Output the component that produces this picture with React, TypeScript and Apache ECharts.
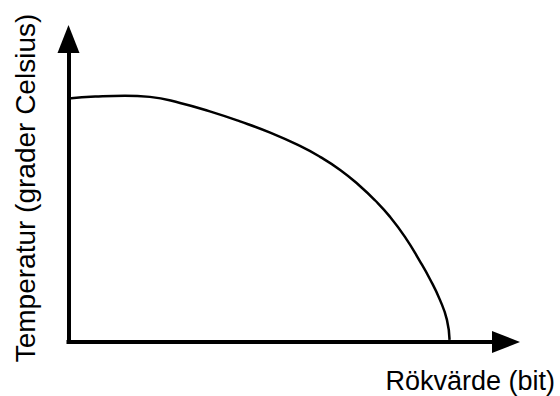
import React, { useEffect, useRef } from "react";
import * as echarts from "echarts";

const xLabel = "Rökvärde (bit)";
const yLabel = "Temperatur (grader Celsius)";
const smokeValues = [0, 0.61, 1.29, 1.86, 2.55, 3.23, 3.92, 4.61, 5.29, 5.75, 6.21, 6.66, 7.01, 7.35, 7.69, 8.03, 8.26, 8.49, 8.65, 8.71];
const tempValues = [80.4, 81.0, 81.3, 80.9, 78.9, 76.1, 72.8, 69.1, 64.7, 61.1, 56.8, 51.5, 46.7, 41.3, 34.7, 26.7, 20.8, 13.9, 7.3, 0.7];

const FONT = "'Liberation Sans', Arial, Helvetica, sans-serif";

export default function App() {
  const ref = useRef<HTMLDivElement>(null);
  useEffect(() => {
    if (!ref.current) return;
    const chart = echarts.init(ref.current, undefined, { renderer: "svg" });
    const axisLine = (symbolSize: number[]) => ({
      show: true,
      symbol: ["none", "triangle"],
      symbolSize,
      lineStyle: { color: "#000", width: 4, cap: "square" },
    });
    chart.setOption({
      animation: false,
      backgroundColor: "#fff",
      grid: { left: 68.5, top: 39, right: 54, bottom: 54, containLabel: false },
      xAxis: {
        type: "value",
        min: 0,
        max: 10,
        axisLine: axisLine([22, 28]),
        axisTick: { show: false },
        axisLabel: { show: false },
        splitLine: { show: false },
      },
      yAxis: {
        type: "value",
        min: 0,
        max: 100,
        axisLine: axisLine([22, 28]),
        axisTick: { show: false },
        axisLabel: { show: false },
        splitLine: { show: false },
      },
      graphic: [
        {
          type: "text",
          x: 25,
          y: 188,
          rotation: Math.PI / 2,
          style: {
            text: yLabel,
            fontSize: 28,
            fontFamily: FONT,
            fill: "#000",
            align: "center",
            verticalAlign: "middle",
          },
        },
        {
          type: "text",
          x: 555,
          y: 381,
          style: {
            text: xLabel,
            fontSize: 27,
            fontFamily: FONT,
            fill: "#000",
            align: "right",
            verticalAlign: "middle",
          },
        },
      ],
      series: [
        {
          type: "line",
          data: smokeValues.map((x, i) => [x, tempValues[i]]),
          smooth: 0.5,
          showSymbol: false,
          lineStyle: { color: "#000", width: 2.5 },
        },
      ],
    });
    return () => chart.dispose();
  }, []);
  return (
    <div
      ref={ref}
      style={{ position: "absolute", left: 0, top: 0, width: 560, height: 396 }}
    />
  );
}
